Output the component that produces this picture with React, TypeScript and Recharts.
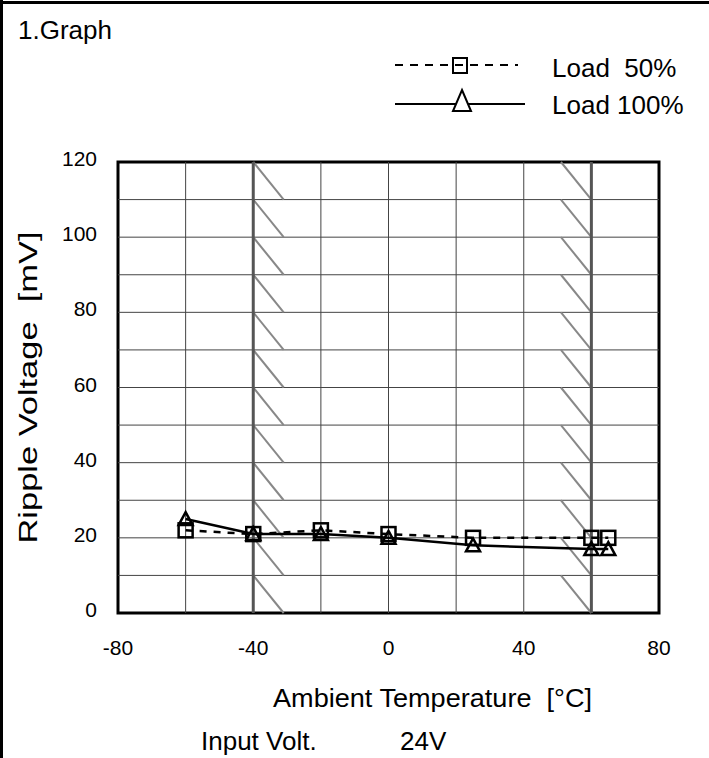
import { LineChart, Line, XAxis, YAxis, ReferenceLine, ReferenceArea, Legend } from 'recharts';

// measurement points
const temps = [-60, -40, -20, 0, 25, 60, 65];
const load50 = [22, 21, 22, 21, 20, 20, 20];
const load100 = [25, 21, 21, 20, 18, 17, 17];

// axes / grid
const xTicks = [-80, -40, 0, 40, 80];
const yTicks = [0, 20, 40, 60, 80, 100, 120];
const xGrid = [-60, -20, 0, 20, 40];
const yGrid = [10, 20, 30, 40, 50, 60, 70, 80, 90, 100, 110];

// operating limits with hatching (start, end of each hatch stroke in degC)
const limits = [-40, 60];
const hatchSpans = [[-40, -31], [51, 60]];
const hatchLevels = [120, 110, 100, 90, 80, 70, 60, 50, 40, 30, 20, 10];

const data = temps.map((t, i) => ({ t, load50: load50[i], load100: load100[i] }));

const FONT = '"Liberation Sans", Arial, sans-serif';

const SquareDot = (p: any) => {
  if (p.cx == null || p.cy == null) return null;
  return (
    <rect key={`sq-${p.index}`} x={p.cx - 7} y={p.cy - 7} width={14} height={14}
      fill="none" stroke="#000" strokeWidth={2.5} />
  );
};

const TriangleDot = (p: any) => {
  if (p.cx == null || p.cy == null) return null;
  const { cx, cy } = p;
  return (
    <polygon key={`tr-${p.index}`} points={`${cx},${cy - 7} ${cx + 7},${cy + 6} ${cx - 7},${cy + 6}`}
      fill="none" stroke="#000" strokeWidth={2.5} strokeLinejoin="miter" />
  );
};

const XTick = (p: any) => (
  <text x={p.x} y={p.y} dy={42} textAnchor="middle" fontSize={21} fontFamily={FONT} fill="#000">
    {p.payload.value}
  </text>
);

const YTick = (p: any) => (
  <text x={p.x} y={p.y} dy={4} textAnchor="end" fontSize={21} fontFamily={FONT} fill="#000">
    {p.payload.value}
  </text>
);

// the axis titles in the reference are a bit longer than plain Arial, so stretch them
const YTitle = (p: any) => {
  const vb = p.viewBox || { x: 58, y: 162, width: 60, height: 451 };
  const cy = vb.y + vb.height / 2;
  const bx = 37;
  return (
    <text x={bx} y={cy} transform={`rotate(-90, ${bx}, ${cy})`} textAnchor="middle"
      fontSize={26} fontFamily={FONT} fill="#000" style={{ whiteSpace: 'pre' }}
      textLength={312} lengthAdjust="spacingAndGlyphs">
      {'Ripple Voltage  [mV]'}
    </text>
  );
};

const XTitle = (p: any) => {
  const vb = p.viewBox || { x: 118, y: 613, width: 541, height: 40 };
  return (
    <text x={vb.x + 155} y={vb.y + 94} fontSize={26} fontFamily={FONT} fill="#000"
      style={{ whiteSpace: 'pre' }} textLength={319} lengthAdjust="spacingAndGlyphs">
      {'Ambient Temperature  [°C]'}
    </text>
  );
};

const LegendBox = () => (
  <svg width={320} height={80} style={{ overflow: 'visible' }}>
    <line x1={5} x2={128} y1={15} y2={15} stroke="#000" strokeWidth={2} strokeDasharray="8 7" />
    <rect x={63} y={8} width={14} height={15} fill="none" stroke="#000" strokeWidth={2} />
    <text x={162} y={27} fontSize={26} fontFamily={FONT} fill="#000" style={{ whiteSpace: 'pre' }}>
      {'Load  50%'}
    </text>
    <line x1={5} x2={135} y1={54} y2={54} stroke="#000" strokeWidth={2} />
    <polygon points="72,40 81,61 63,61" fill="#fff" stroke="#000" strokeWidth={2} />
    <text x={162} y={64} fontSize={26} fontFamily={FONT} fill="#000">
      Load 100%
    </text>
  </svg>
);

export default function App() {
  return (
    <div style={{ position: 'absolute', left: 0, top: 0, width: 709, height: 758, background: '#fff', overflow: 'hidden' }}>
      <div style={{ position: 'absolute', left: 0, top: 0, width: 3, height: 758, background: '#000' }} />
      <div style={{ position: 'absolute', left: 0, top: 1, width: 709, height: 3, background: '#000' }} />
      <div style={{ position: 'absolute', left: 18, top: 17, fontFamily: FONT, fontSize: 26, lineHeight: '26px', color: '#000' }}>
        1.Graph
      </div>
      <div style={{ position: 'absolute', left: 201, top: 728, fontFamily: FONT, fontSize: 26, lineHeight: '26px', color: '#000', whiteSpace: 'pre' }}>
        Input Volt.
      </div>
      <div style={{ position: 'absolute', left: 400, top: 728, fontFamily: FONT, fontSize: 26, lineHeight: '26px', color: '#000' }}>
        24V
      </div>

      <LineChart width={709} height={758} data={data}
        margin={{ top: 162, right: 50, bottom: 105, left: 58 }}
        style={{ position: 'absolute', left: 0, top: 0 }}>
        <XAxis type="number" dataKey="t" domain={[-80, 80]} ticks={xTicks} allowDataOverflow
          axisLine={false} tickLine={false} tickSize={0} tickMargin={0} height={40}
          tick={<XTick />} label={<XTitle />} />
        <YAxis type="number" domain={[0, 120]} ticks={yTicks} allowDataOverflow
          axisLine={false} tickLine={false} tickSize={0} tickMargin={21} width={60}
          tick={<YTick />} label={<YTitle />} />

        {xGrid.map(v => (
          <ReferenceLine key={`gx${v}`} x={v} stroke="#444" strokeWidth={1} />
        ))}
        {yGrid.map(v => (
          <ReferenceLine key={`gy${v}`} y={v} stroke="#444" strokeWidth={1} />
        ))}
        {hatchSpans.map(([a, b]) =>
          hatchLevels.map(v => (
            <ReferenceLine key={`h${a}-${v}`} segment={[{ x: a, y: v }, { x: b, y: v - 10 }]}
              stroke="#888" strokeWidth={2} ifOverflow="visible" />
          ))
        )}
        {limits.map(v => (
          <ReferenceLine key={`lim${v}`} x={v} stroke="#555" strokeWidth={3} />
        ))}
        <ReferenceArea x1={-80} x2={80} y1={0} y2={120} fill="none" fillOpacity={0}
          stroke="#000" strokeWidth={3} ifOverflow="visible" />

        <Line type="linear" dataKey="load50" name="Load  50%" stroke="#000" strokeWidth={2.5}
          strokeDasharray="7 7" dot={SquareDot} activeDot={false} isAnimationActive={false} />
        <Line type="linear" dataKey="load100" name="Load 100%" stroke="#000" strokeWidth={2.5}
          dot={TriangleDot} activeDot={false} isAnimationActive={false} />

        <Legend layout="vertical" align="center" verticalAlign="middle"
          wrapperStyle={{ position: 'absolute', left: 390, top: 50, width: 320, height: 80 }}
          content={<LegendBox />} />
      </LineChart>
    </div>
  );
}
